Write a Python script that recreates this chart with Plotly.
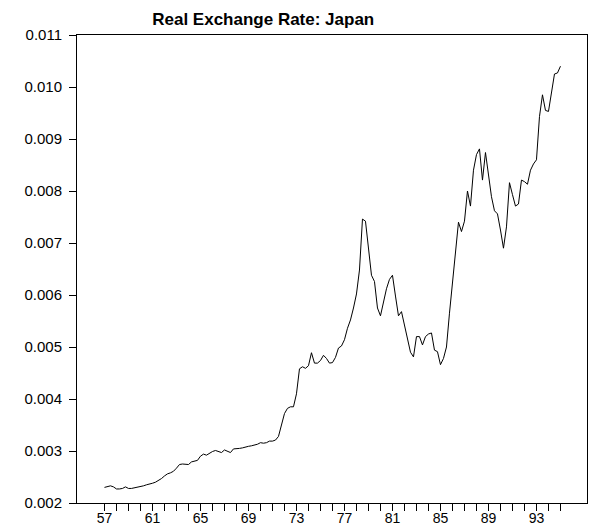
import plotly.graph_objects as go

# Quarterly real exchange rate, Japan, 1957Q1 - 1995Q1
start_year = 1957
rate = [
    0.00230, 0.00232, 0.00233, 0.00231,  # 57
    0.00227, 0.00227, 0.00228, 0.00231,  # 58
    0.00228, 0.00228, 0.00229, 0.00230,  # 59
    0.00232, 0.00233, 0.00235, 0.00236,  # 60
    0.00238, 0.00240, 0.00243, 0.00247,  # 61
    0.00252, 0.00256, 0.00258, 0.00261,  # 62
    0.00267, 0.00274, 0.00275, 0.00274,  # 63
    0.00274, 0.00279, 0.00280, 0.00282,  # 64
    0.00290, 0.00294, 0.00292, 0.00296,  # 65
    0.00299, 0.00301, 0.00299, 0.00297,  # 66
    0.00302, 0.00300, 0.00297, 0.00304,  # 67
    0.00304, 0.00305, 0.00306, 0.00308,  # 68
    0.00309, 0.00310, 0.00311, 0.00313,  # 69
    0.00316, 0.00315, 0.00316, 0.00319,  # 70
    0.00319, 0.00321, 0.00328, 0.00350,  # 71
    0.00372, 0.00382, 0.00385, 0.00385,  # 72
    0.00410, 0.00458, 0.00462, 0.00459,  # 73
    0.00464, 0.00489, 0.00469, 0.00469,  # 74
    0.00474, 0.00484, 0.00478, 0.00469,  # 75
    0.00470, 0.00480, 0.00498, 0.00502,  # 76
    0.00514, 0.00536, 0.00552, 0.00575,  # 77
    0.00602, 0.00648, 0.00746, 0.00742,  # 78
    0.00693, 0.00638, 0.00626, 0.00575,  # 79
    0.00560, 0.00588, 0.00612, 0.00630,  # 80
    0.00638, 0.00598, 0.00560, 0.00568,  # 81
    0.00542, 0.00520, 0.00490, 0.00481,  # 82
    0.00520, 0.00520, 0.00504, 0.00520,  # 83
    0.00525, 0.00527, 0.00494, 0.00491,  # 84
    0.00466, 0.00478, 0.00500, 0.00565,  # 85
    0.00625, 0.00680, 0.00740, 0.00722,  # 86
    0.00742, 0.00800, 0.00771, 0.00840,  # 87
    0.00870, 0.00881, 0.00821, 0.00874,  # 88
    0.00835, 0.00789, 0.00762, 0.00756,  # 89
    0.00725, 0.00690, 0.00731, 0.00816,  # 90
    0.00793, 0.00771, 0.00775, 0.00821,  # 91
    0.00818, 0.00813, 0.00840, 0.00852,  # 92
    0.00860, 0.00943, 0.00985, 0.00955,  # 93
    0.00953, 0.00994, 0.01025, 0.01027,  # 94
    0.01040,                             # 95
]
time = [start_year + i / 4 for i in range(len(rate))]

tick_years = list(range(1957, 1996))
tick_labels = [str(y)[2:] if (y - 1957) % 4 == 0 and y <= 1993 else "" for y in tick_years]
y_ticks = [0.002, 0.003, 0.004, 0.005, 0.006, 0.007, 0.008, 0.009, 0.010, 0.011]

fig = go.Figure()
fig.add_trace(go.Scatter(x=time, y=rate, mode="lines",
                         line=dict(color="black", width=1), showlegend=False))

fig.update_layout(
    width=601, height=531,
    margin=dict(l=77, r=14, t=35, b=28),
    paper_bgcolor="white", plot_bgcolor="white",
    font=dict(family="Liberation Sans, Arial, sans-serif", color="black", size=14),
    title=dict(text="<b>Real Exchange Rate: Japan</b>", x=0.438, xref="container",
               xanchor="center", y=1 - 19 / 531, yref="container", yanchor="middle",
               font=dict(size=17, color="black")),
)
fig.update_xaxes(
    range=[1954.71, 1997.21], tickmode="array", tickvals=tick_years, ticktext=tick_labels,
    ticks="outside", ticklen=7, tickcolor="black", tickwidth=1, automargin=False,
    ticklabelstandoff=-5,
    showgrid=False, zeroline=False, showline=True, linecolor="black", linewidth=1,
    mirror=True, tickfont=dict(size=14),
)
fig.update_yaxes(
    range=[0.002, 0.011], tickmode="array", tickvals=y_ticks,
    ticktext=[f"{v:.3f}" for v in y_ticks], automargin=False,
    ticks="outside", ticklen=7, tickcolor="black", tickwidth=1,
    ticklabelstandoff=4,
    showgrid=False, zeroline=False, showline=True, linecolor="black", linewidth=1,
    mirror=True, tickfont=dict(size=15),
)

fig.write_html("out.html")
